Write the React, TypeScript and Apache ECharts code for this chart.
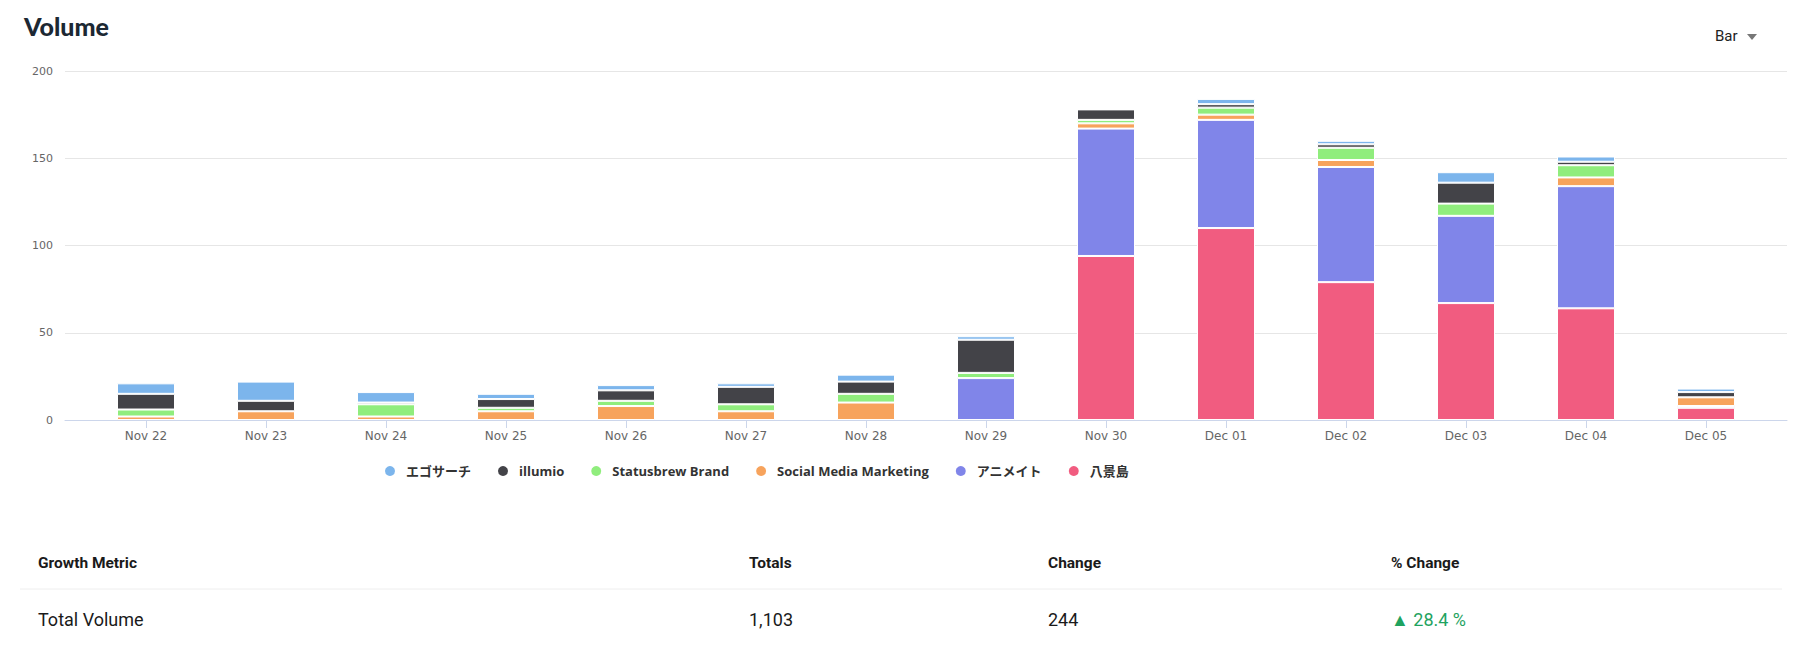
import React, { useEffect, useRef } from "react";
import * as echarts from "echarts";

const categories = ["Nov 22", "Nov 23", "Nov 24", "Nov 25", "Nov 26", "Nov 27", "Nov 28", "Nov 29", "Nov 30", "Dec 01", "Dec 02", "Dec 03", "Dec 04", "Dec 05"];
const egoSearch = [6, 11, 6, 3, 3, 2, 4, 2, 0, 3, 2, 6, 3, 2];
const illumio = [9, 6, 1, 5, 6, 10, 7, 19, 6, 2, 2, 12, 2, 3];
const statusbrew = [4, 0, 7, 2, 3, 4, 5, 3, 2, 4, 7, 7, 7, 0];
const socialMedia = [2, 5, 2, 5, 8, 5, 10, 0, 3, 3, 4, 0, 5, 5];
const animate = [0, 0, 0, 0, 0, 0, 0, 24, 73, 62, 66, 50, 70, 1];
const hakkeijima = [0, 0, 0, 0, 0, 0, 0, 0, 94, 110, 79, 67, 64, 7];

const seriesNames = ["エゴサーチ", "illumio", "Statusbrew Brand", "Social Media Marketing", "アニメイト", "八景島"];
const seriesColors = ["#7cb5ec", "#434348", "#90ed7d", "#f7a35c", "#8085e9", "#f15c80"];
const seriesValues = [egoSearch, illumio, statusbrew, socialMedia, animate, hakkeijima];

const yTicks = { min: 0, max: 200, interval: 50 };

const tableHeaders = ["Growth Metric", "Totals", "Change", "% Change"];
const tableRow = ["Total Volume", "1,103", "244", "▲ 28.4 %"];
const tableColumnsX = [38, 749, 1048, 1391];

export default function App() {
  const ref = useRef<HTMLDivElement>(null);
  useEffect(() => {
    if (!ref.current) return;
    const chart = echarts.init(ref.current, undefined, { renderer: "svg" });
    const axisFont = '"DejaVu Sans", sans-serif';
    // stack bottom-to-top: reverse legend order
    const order = [5, 4, 3, 2, 1, 0];
    const series = order.map((i) => ({
      type: "bar",
      name: seriesNames[i],
      stack: "volume",
      xAxisIndex: 1,
      yAxisIndex: 1,
      barWidth: 58,
      data: seriesValues[i].map((v) => (v === 0 ? null : v)),
      itemStyle: { color: seriesColors[i], borderColor: "#ffffff", borderWidth: 1 },
    }));

    const graphics: any[] = [
      {
        type: "text",
        x: 1715,
        y: 36,
        style: { text: "Bar", font: '15px Roboto, sans-serif', fill: "#222", verticalAlign: "middle" },
      },
      {
        type: "polygon",
        shape: { points: [[1747, 34], [1757, 34], [1752, 40]] },
        style: { fill: "#777" },
      },
      {
        type: "line",
        shape: { x1: 20, y1: 589, x2: 1782, y2: 589 },
        style: { stroke: "#eeeeee", lineWidth: 1 },
      },
    ];
    tableHeaders.forEach((h, i) => {
      graphics.push({
        type: "text",
        x: tableColumnsX[i],
        y: 563,
        style: { text: h, font: 'bold 15.5px Roboto, sans-serif', fill: "#1a1a1a", verticalAlign: "middle" },
      });
    });
    tableRow.forEach((v, i) => {
      graphics.push({
        type: "text",
        x: tableColumnsX[i],
        y: 619,
        style: {
          text: v,
          font: '18px Roboto, sans-serif',
          fill: i === 3 ? "#1fa35f" : "#1a1a1a",
          verticalAlign: "middle",
        },
      });
    });

    chart.setOption({
      animation: false,
      backgroundColor: "#ffffff",
      title: {
        text: "Volume",
        left: 19,
        top: 8,
        textStyle: { fontFamily: "Lato, sans-serif", fontWeight: 900, fontSize: 25, color: "#1c2833" },
      },
      legend: {
        data: seriesNames,
        left: 383,
        top: 464,
        padding: 0,
        icon: "circle",
        itemWidth: 12,
        itemHeight: 12,
        itemGap: 25,
        textStyle: {
          fontFamily: '"Open Sans", "Noto Sans CJK JP", sans-serif',
          fontWeight: "bold",
          fontSize: 13,
          color: "#333333",
          padding: [0, 0, 0, 5],
        },
      },
      grid: [
        { left: 65, right: 16, top: 71, height: 349 },
        { left: 86, right: 37, top: 71, height: 349 },
      ],
      xAxis: [
        {
          gridIndex: 0,
          type: "value",
          min: 0,
          max: 1,
          axisLine: { show: true, onZero: false, lineStyle: { color: "#ccd6eb" } },
          axisTick: { show: false },
          axisLabel: { show: false },
          splitLine: { show: false },
        },
        {
          gridIndex: 1,
          type: "category",
          data: categories,
          axisLine: { show: false },
          axisTick: { show: true, alignWithLabel: true, length: 8, lineStyle: { color: "#ccd6eb" } },
          axisLabel: { color: "#666666", fontSize: 12, fontFamily: axisFont, margin: 10 },
        },
      ],
      yAxis: [
        {
          gridIndex: 0,
          type: "value",
          min: yTicks.min,
          max: yTicks.max,
          interval: yTicks.interval,
          axisLine: { show: false },
          axisTick: { show: false },
          axisLabel: { color: "#666666", fontSize: 11, fontFamily: axisFont, margin: 12 },
          splitLine: { lineStyle: { color: "#e6e6e6" } },
        },
        {
          gridIndex: 1,
          type: "value",
          min: yTicks.min,
          max: yTicks.max,
          interval: yTicks.interval,
          show: false,
        },
      ],
      series,
      graphic: graphics,
    });
    return () => chart.dispose();
  }, []);
  return <div ref={ref} style={{ position: "absolute", left: 0, top: 0, width: 1803, height: 653 }} />;
}
